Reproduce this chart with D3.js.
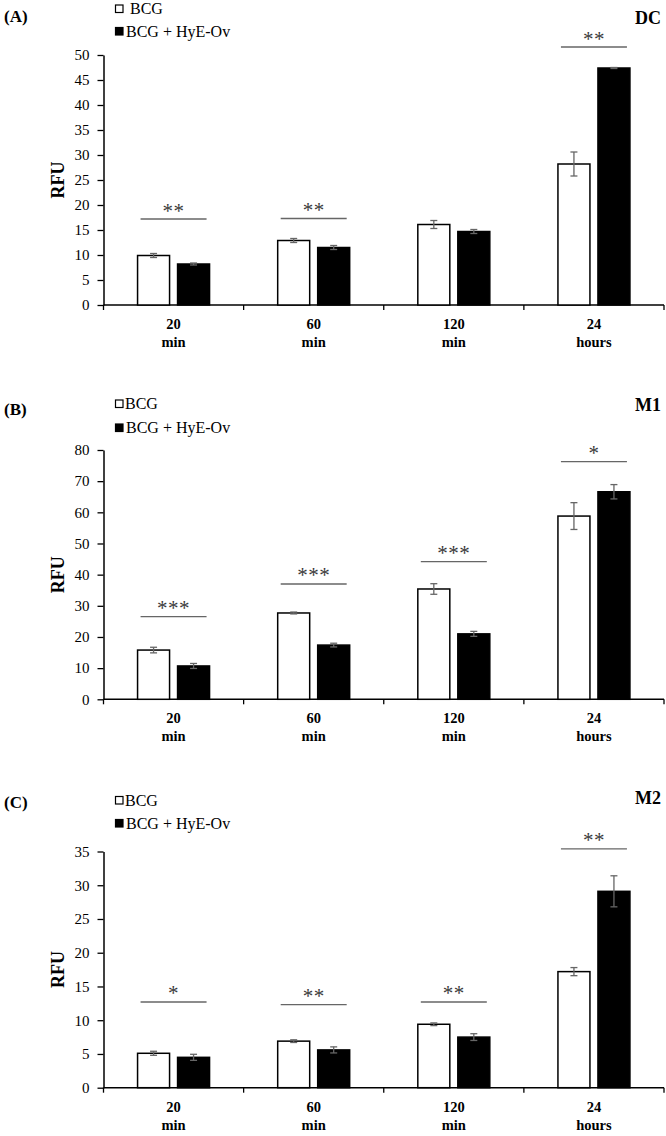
<!DOCTYPE html>
<html>
<head>
<meta charset="utf-8">
<script src="https://cdn.jsdelivr.net/npm/d3@7"></script>
<style>
  html, body { margin: 0; padding: 0; background: #fff; }
  svg { display: block; }
  text { font-family: "Liberation Serif", "Times New Roman", serif; }
</style>
</head>
<body>
<svg id="chart" width="666" height="1136"></svg>
<script>
// ---------------- data ----------------
const categories = ["20 min", "60 min", "120 min", "24 hours"];
const catLine1 = ["20", "60", "120", "24"];
const catLine2 = ["min", "min", "min", "hours"];
const seriesNames = ["BCG", "BCG + HyE-Ov"];

const panelLetters = ["(A)", "(B)", "(C)"];
const cellTypes = ["DC", "M1", "M2"];

// Panel A — DC
const bcgA = [9.9, 12.9, 16.1, 28.2];
const bcgErrA = [0.4, 0.4, 0.8, 2.4];
const hyeA = [8.2, 11.5, 14.7, 47.4];
const hyeErrA = [0.2, 0.4, 0.4, 0.1];
const sigA = ["**", "**", "", "**"];
const sigLevelA = [17.2, 17.3, null, 51.6];
const yMaxA = 50, yStepA = 5;

// Panel B — M1
const bcgB = [15.8, 27.7, 35.4, 58.8];
const bcgErrB = [0.9, 0.3, 1.7, 4.3];
const hyeB = [10.7, 17.4, 21.0, 66.6];
const hyeErrB = [0.8, 0.6, 0.8, 2.3];
const sigB = ["***", "***", "***", "*"];
const sigLevelB = [26.5, 37.0, 44.2, 76.3];
const yMaxB = 80, yStepB = 10;

// Panel C — M2
const bcgC = [5.1, 6.9, 9.4, 17.2];
const bcgErrC = [0.3, 0.2, 0.2, 0.6];
const hyeC = [4.5, 5.6, 7.5, 29.1];
const hyeErrC = [0.45, 0.45, 0.5, 2.3];
const sigC = ["*", "**", "**", "**"];
const sigLevelC = [12.7, 12.3, 12.7, 35.4];
const yMaxC = 35, yStepC = 5;

// ---------------- layout ----------------
const panels = [
  { bcg: bcgA, bcgErr: bcgErrA, hye: hyeA, hyeErr: hyeErrA, sig: sigA, sigLevel: sigLevelA, yMax: yMaxA, yStep: yStepA,
    top: 55, bottom: 305, legendY: [8.5, 31], legendTextX: [130, 126], letterY: 16, cellY: 18 },
  { bcg: bcgB, bcgErr: bcgErrB, hye: hyeB, hyeErr: hyeErrB, sig: sigB, sigLevel: sigLevelB, yMax: yMaxB, yStep: yStepB,
    top: 450, bottom: 699.3, legendY: [403.5, 427.5], legendTextX: [125, 126], letterY: 409, cellY: 405 },
  { bcg: bcgC, bcgErr: bcgErrC, hye: hyeC, hyeErr: hyeErrC, sig: sigC, sigLevel: sigLevelC, yMax: yMaxC, yStep: yStepC,
    top: 851.5, bottom: 1087.7, legendY: [800, 823], legendTextX: [125, 126], letterY: 802, cellY: 798 }
];

const xLeft = 103.5, xRight = 664;
const barW = 32, barGap = 8;
const svg = d3.select("#chart");

panels.forEach((p, pi) => {
  const g = svg.append("g");
  const x = d3.scaleBand().domain(categories).range([xLeft, xRight]).padding(0);
  const y = d3.scaleLinear().domain([0, p.yMax]).range([p.bottom, p.top]);

  // panel letter & cell type
  g.append("text").attr("x", 4).attr("y", p.letterY).attr("dy", "0.35em")
    .attr("font-size", 17).attr("font-weight", "bold").text(panelLetters[pi]);
  g.append("text").attr("x", 661).attr("y", p.cellY).attr("dy", "0.35em")
    .attr("text-anchor", "end").attr("font-size", 18).attr("font-weight", "bold").text(cellTypes[pi]);

  // legend
  const fills = ["#fff", "#000"];
  seriesNames.forEach((name, si) => {
    g.append("rect").attr("x", 115.5).attr("y", p.legendY[si] - 3.5).attr("width", 7.5).attr("height", 7.5)
      .attr("fill", fills[si]).attr("stroke", "#000").attr("stroke-width", 1.2);
    g.append("text").attr("x", p.legendTextX[si]).attr("y", p.legendY[si]).attr("dy", "0.35em")
      .attr("font-size", 16).text(name);
  });

  // y axis
  const ticks = d3.range(0, p.yMax + 0.001, p.yStep);
  const yAxis = d3.axisLeft(y).tickValues(ticks).tickSize(6).tickPadding(8).tickSizeOuter(0).tickFormat(d3.format("d"));
  const ya = g.append("g").attr("transform", `translate(${xLeft},0)`).call(yAxis);
  ya.select(".domain").attr("stroke", "#000").attr("stroke-width", 1.5);
  ya.selectAll(".tick line").attr("stroke", "#000").attr("stroke-width", 1.3);
  ya.selectAll(".tick text").attr("font-family", "Liberation Serif, serif").attr("font-size", 15).attr("fill", "#000");

  // y label
  g.append("text")
    .attr("transform", `translate(58,${(p.top + p.bottom) / 2}) rotate(-90)`)
    .attr("text-anchor", "middle").attr("dy", "0.35em")
    .attr("font-size", 18).attr("font-weight", "bold").text("RFU");

  // x axis line + boundary ticks
  g.append("line").attr("x1", xLeft).attr("x2", xRight).attr("y1", y(0)).attr("y2", y(0))
    .attr("stroke", "#000").attr("stroke-width", 1.5);
  const bounds = categories.map(c => x(c)).concat([x(categories[categories.length - 1]) + x.bandwidth()]);
  g.selectAll(".xtick").data(bounds).enter().append("line")
    .attr("x1", d => d).attr("x2", d => d).attr("y1", y(0)).attr("y2", y(0) + 5)
    .attr("stroke", "#000").attr("stroke-width", 1.3);

  // x labels
  categories.forEach((c, i) => {
    const cx = x(c) + x.bandwidth() / 2;
    g.append("text").attr("x", cx).attr("y", y(0) + 19).attr("dy", "0.35em").attr("text-anchor", "middle")
      .attr("font-size", 14.5).attr("font-weight", "bold").text(catLine1[i]);
    g.append("text").attr("x", cx).attr("y", y(0) + 37).attr("dy", "0.35em").attr("text-anchor", "middle")
      .attr("font-size", 14.5).attr("font-weight", "bold").text(catLine2[i]);
  });

  // bars
  const series = [
    { vals: p.bcg, errs: p.bcgErr, fill: "#fff", off: -barGap / 2 - barW },
    { vals: p.hye, errs: p.hyeErr, fill: "#000", off: barGap / 2 }
  ];
  series.forEach(s => {
    const data = categories.map((c, i) => ({ c, v: s.vals[i], e: s.errs[i] }));
    g.selectAll(null).data(data).enter().append("rect")
      .attr("x", d => x(d.c) + x.bandwidth() / 2 + s.off)
      .attr("y", d => y(d.v))
      .attr("width", barW)
      .attr("height", d => y(0) - y(d.v))
      .attr("fill", s.fill).attr("stroke", "#000").attr("stroke-width", 1.5);
    // error bars
    const eg = g.selectAll(null).data(data).enter().append("g")
      .attr("stroke", "#666").attr("stroke-width", 1.3);
    eg.append("line")
      .attr("x1", d => x(d.c) + x.bandwidth() / 2 + s.off + barW / 2)
      .attr("x2", d => x(d.c) + x.bandwidth() / 2 + s.off + barW / 2)
      .attr("y1", d => y(d.v + d.e)).attr("y2", d => y(d.v - d.e));
    [1, -1].forEach(sign => {
      eg.append("line")
        .attr("x1", d => x(d.c) + x.bandwidth() / 2 + s.off + barW / 2 - 3.5)
        .attr("x2", d => x(d.c) + x.bandwidth() / 2 + s.off + barW / 2 + 3.5)
        .attr("y1", d => y(d.v + sign * d.e)).attr("y2", d => y(d.v + sign * d.e));
    });
  });

  // significance
  categories.forEach((c, i) => {
    if (!p.sig[i]) return;
    const cx = x(c) + x.bandwidth() / 2;
    const ly = y(p.sigLevel[i]);
    g.append("line").attr("x1", cx - 33).attr("x2", cx + 33).attr("y1", ly).attr("y2", ly)
      .attr("stroke", "#666").attr("stroke-width", 1.3);
    g.append("text").attr("x", cx).attr("y", ly - 1.5).attr("text-anchor", "middle")
      .attr("font-size", 21).attr("fill", "#3a3a3a").attr("letter-spacing", 0.5).text(p.sig[i]);
  });
});
</script>
</body>
</html>
